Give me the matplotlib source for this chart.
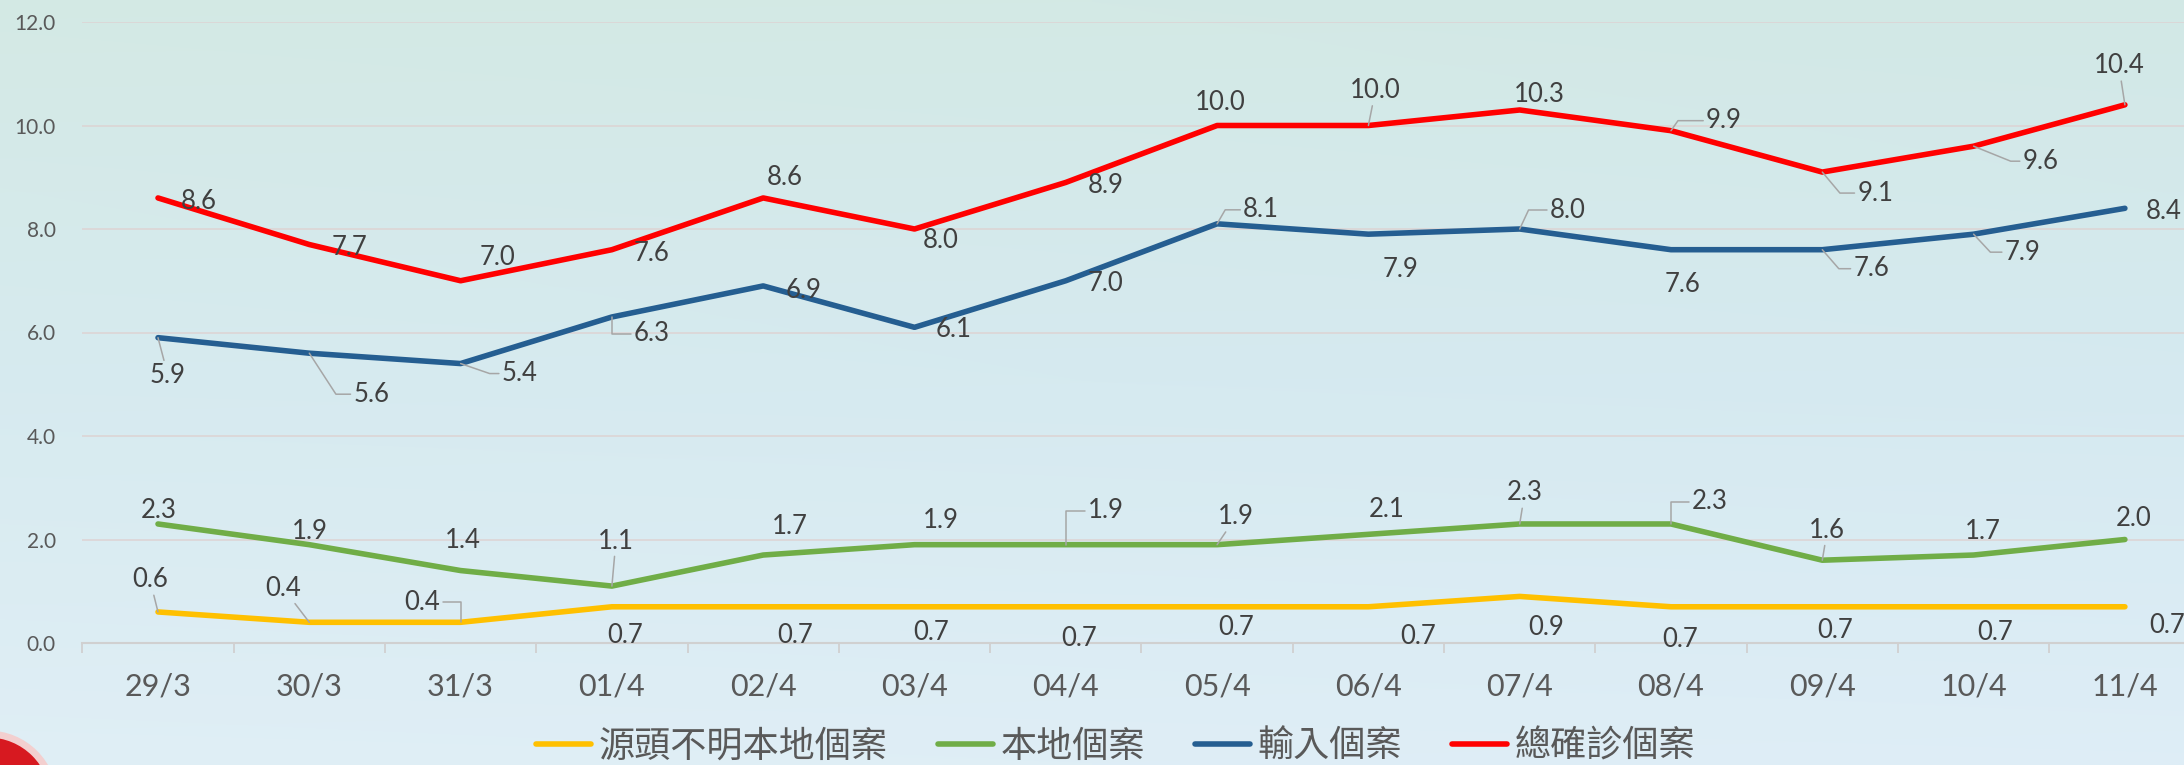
import numpy as np
import matplotlib
matplotlib.use("Agg")
import matplotlib.pyplot as plt
from matplotlib.lines import Line2D
from matplotlib.patches import Circle
from matplotlib.font_manager import FontProperties

# ---------------- data ----------------
dates = ['29/3', '30/3', '31/3', '01/4', '02/4', '03/4', '04/4',
         '05/4', '06/4', '07/4', '08/4', '09/4', '10/4', '11/4']
unknown_local = [0.6, 0.4, 0.4, 0.7, 0.7, 0.7, 0.7, 0.7, 0.7, 0.9, 0.7, 0.7, 0.7, 0.7]
local_cases = [2.3, 1.9, 1.4, 1.1, 1.7, 1.9, 1.9, 1.9, 2.1, 2.3, 2.3, 1.6, 1.7, 2.0]
imported_cases = [5.9, 5.6, 5.4, 6.3, 6.9, 6.1, 7.0, 8.1, 7.9, 8.0, 7.6, 7.6, 7.9, 8.4]
total_cases = [8.6, 7.7, 7.0, 7.6, 8.6, 8.0, 8.9, 10.0, 10.0, 10.3, 9.9, 9.1, 9.6, 10.4]
series_names = ['源頭不明本地個案', '本地個案', '輸入個案', '總確診個案']
y_ticks = [0, 2, 4, 6, 8, 10, 12]

# ---------------- styles ----------------
colors = ['#FFC000', '#70AD47', '#255E91', '#FF0000']

# label offsets in pixels (dx, dy up) relative to each point
off_unknown = [(-8, 34), (-26, 36), (-38, 22), (13, -27), (32, -27), (17, -24), (13, -30),
               (19, -19), (50, -28), (26, -29), (9, -31), (13, -22), (22, -24), (42, -17)]
off_local = [(1, 15), (1, 15), (2, 32), (4, 47), (27, 31), (26, 26), (40, 36),
             (19, 30), (18, 27), (5, 33), (39, 24), (5, 32), (9, 26), (9, 23)]
off_imported = [(10, -36), (62, -39), (59, -8), (40, -15), (40, -3), (39, 0), (40, -1),
                (44, 16), (32, -33), (48, 21), (12, -33), (49, -17), (49, -16), (39, -1)]
off_total = [(41, -2), (40, -1), (37, 25), (40, -2), (22, 22), (26, -9), (40, -1),
             (3, 25), (7, 37), (20, 17), (53, 12), (53, -19), (67, -13), (-6, 41)]

# leader lines: 'line' = straight, number = elbow with that angle at the point
lead_unknown = {0: 'line', 1: 'line', 2: 90}
lead_local = {3: 'line', 6: 90, 7: 'line', 9: 'line', 10: 90, 11: 'line'}
lead_imported = {0: 'line', 1: -57, 2: -19, 3: -90, 7: 60, 9: 65, 11: -49, 12: -47}
lead_total = {8: 'line', 10: 55, 11: -50, 12: -22, 13: 'line'}

W, H = 2184, 765
fig = plt.figure(figsize=(W / 100, H / 100), dpi=100)

# ---------------- background ----------------
bg = fig.add_axes([0, 0, 1, 1], zorder=-10)
gy = np.linspace(0, 1, 200)[:, None]
gx = np.linspace(0, 1, 400)[None, :]
top = np.array([211, 233, 229]) / 255.0
mid = np.array([214, 234, 240]) / 255.0
bot = np.array([223, 238, 246]) / 255.0
t = gy
col = np.where(t[..., None] < 0.5,
               top * (1 - 2 * t[..., None]) + mid * (2 * t[..., None]),
               mid * (2 - 2 * t[..., None]) + bot * (2 * t[..., None] - 1))
col = np.broadcast_to(col, (200, 400, 3)).copy()
col += (gx[..., None] - 0.5) * np.array([-0.006, -0.004, 0.004])
bg.imshow(np.clip(col, 0, 1), extent=[0, W, H, 0], aspect='auto', interpolation='bilinear')
bg.add_patch(Circle((-12, 800), 66, facecolor='#d71920', edgecolor='#f3cfcf', lw=5))
bg.set_xlim(0, W)
bg.set_ylim(H, 0)
bg.axis('off')

# ---------------- main axes ----------------
x_left_px, x0_px, step_px = 82.35, 158.0, 151.3
ax = fig.add_axes([x_left_px / W, 122 / H, (W - x_left_px) / W, 621 / H])
ax.patch.set_alpha(0)
x = np.arange(len(dates))

ax.set_yticks(y_ticks)
ax.set_yticklabels([f'{v:.1f}' for v in y_ticks], fontfamily='Lato')
ax.yaxis.grid(True, color='#ddd3d3', lw=1.1)
ax.set_axisbelow(True)
ax.tick_params(axis='y', length=0, pad=19, labelsize=15, labelcolor='#595959')

ax.set_xticks(x)
ax.set_xticklabels(dates, fontfamily='Lato')
ax.set_xticks(np.arange(-0.5, len(dates), 1), minor=True)
ax.tick_params(axis='x', which='major', length=0, pad=21, labelsize=22, labelcolor='#595959')
ax.tick_params(axis='x', which='minor', length=7.5, width=1.3, color='#d0d0d0', direction='out')
ax.set_xlim(-0.5, -0.5 + (W - x_left_px) / step_px)
ax.set_ylim(0, 12)

for s in ['top', 'right', 'left']:
    ax.spines[s].set_visible(False)
ax.spines['bottom'].set_color('#d0d0d0')
ax.spines['bottom'].set_linewidth(1.5)

all_series = [unknown_local, local_cases, imported_cases, total_cases]
all_offs = [off_unknown, off_local, off_imported, off_total]
all_leads = [lead_unknown, lead_local, lead_imported, lead_total]

for vals, c, name in zip(all_series, colors, series_names):
    ax.plot(x, vals, color=c, lw=4, solid_capstyle='round', solid_joinstyle='round',
            label=name, zorder=3)

for vals, offs, leads in zip(all_series, all_offs, all_leads):
    for i, v in enumerate(vals):
        dx, dy = offs[i]
        kw = {}
        if i in leads:
            st = leads[i]
            if st == 'line':
                kw['arrowprops'] = dict(arrowstyle='-', color='#a6a6a6', lw=1.1,
                                        shrinkA=0, shrinkB=0)
            else:
                relx = 0 if dx > 0 else 1
                kw['arrowprops'] = dict(arrowstyle='-', color='#a6a6a6', lw=1.1,
                                        shrinkA=0, shrinkB=0, relpos=(relx, 0.5),
                                        connectionstyle=f'angle,angleA=0,angleB={st},rad=0')
        ax.annotate(f'{v:.1f}', xy=(x[i], v), xytext=(dx, dy - 2),
                    textcoords='offset pixels', ha='center', va='center',
                    fontsize=18.5, fontfamily='Lato', color='#404040', zorder=4,
                    annotation_clip=False, **kw)

handles = [Line2D([], [], color=c, lw=4, solid_capstyle='round') for c in colors]
fig.legend(handles, series_names, loc='center', bbox_to_anchor=(0.5108, 0.0235), ncol=4,
           frameon=False, prop=FontProperties(family=['Noto Sans CJK TC'], size=26),
           handlelength=1.53, handletextpad=0.2, columnspacing=1.39,
           labelcolor='#595959', borderpad=0, borderaxespad=0)

fig.savefig('out.png', dpi=100)
